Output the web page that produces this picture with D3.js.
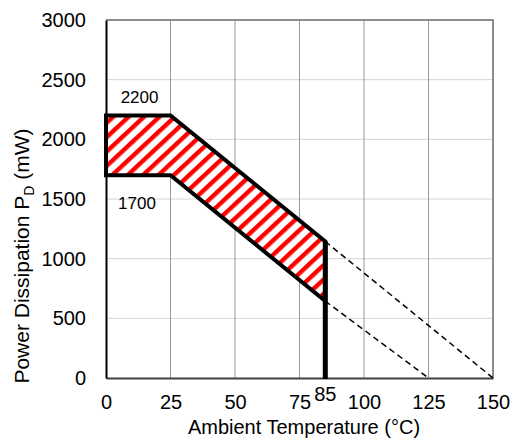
<!DOCTYPE html>
<html>
<head>
<meta charset="utf-8">
<script src="https://cdn.jsdelivr.net/npm/d3@7"></script>
<style>
  body { margin: 0; background: #fff; }
  text { font-family: Arial, "Liberation Sans", sans-serif; fill: #000; }
</style>
</head>
<body>
<script>
// chart values
var xTicks = [0, 25, 50, 75, 100, 125, 150];
var yTicks = [0, 500, 1000, 1500, 2000, 2500, 3000];

// safe operating area, upper and lower boundaries
var upperTemp = [0, 25, 85];
var upperPower = [2200, 2200, 1144];
var lowerTemp = [0, 25, 85];
var lowerPower = [1700, 1700, 644];

// derating extension lines (dashed)
var upperDashTemp = [85, 150];
var upperDashPower = [1144, 0];
var lowerDashTemp = [85, 125];
var lowerDashPower = [644, 0];

var labelTemp = 85;
var maxLabels = [2200, 1700];

var margin = {top: 20, right: 18, bottom: 65, left: 106},
    width = 511 - margin.left - margin.right,
    height = 443 - margin.top - margin.bottom;

var xScale = d3.scaleLinear().domain([0, 150]).range([0, width]);
var yScale = d3.scaleLinear().domain([0, 3000]).range([height, 0]);

var svg = d3.select('body')
    .append('svg')
    .attr('width', 511)
    .attr('height', 443)
    .append('g')
    .attr('transform', 'translate(' + margin.left + ',' + margin.top + ')');

// hatch pattern
var defs = svg.append('defs');
var pat = defs.append('pattern')
    .attr('id', 'hatch')
    .attr('patternUnits', 'userSpaceOnUse')
    .attr('width', 20)
    .attr('height', 10.5)
    .attr('patternTransform', 'rotate(-43)');
pat.append('rect').attr('width', 20).attr('height', 10.5).attr('fill', '#fff');
pat.append('rect').attr('width', 20).attr('height', 4.4).attr('fill', '#ff0000');

// horizontal gridlines
svg.append('g')
    .attr('class', 'grid')
    .selectAll('line')
    .data(yTicks.slice(1, -1))
    .enter().append('line')
    .attr('x1', 0).attr('x2', width)
    .attr('y1', function(d) { return yScale(d); })
    .attr('y2', function(d) { return yScale(d); })
    .attr('stroke', '#d4d4d4')
    .attr('stroke-width', 1);

// vertical gridlines
svg.append('g')
    .attr('class', 'grid')
    .selectAll('line')
    .data(xTicks.slice(1, -1))
    .enter().append('line')
    .attr('y1', 0).attr('y2', height)
    .attr('x1', function(d) { return xScale(d); })
    .attr('x2', function(d) { return xScale(d); })
    .attr('stroke', '#999')
    .attr('stroke-width', 1);

// top and right border
svg.append('line')
    .attr('x1', 0).attr('x2', width).attr('y1', 0).attr('y2', 0)
    .attr('stroke', '#8c8c8c').attr('stroke-width', 2);
svg.append('line')
    .attr('x1', width).attr('x2', width).attr('y1', -1).attr('y2', height)
    .attr('stroke', '#8c8c8c').attr('stroke-width', 2);

// axes
var xAxis = d3.axisBottom(xScale).tickValues(xTicks).tickSize(0).tickPadding(17);
var yAxis = d3.axisLeft(yScale).tickValues(yTicks).tickSize(0).tickPadding(20)
    .tickFormat(d3.format('d'));

var gx = svg.append('g')
    .attr('transform', 'translate(0,' + height + ')')
    .call(xAxis);
gx.select('.domain').attr('stroke', '#404040').attr('stroke-width', 2);
gx.selectAll('text').style('font-size', '20px').attr('dy', '0.71em');

var gy = svg.append('g').call(yAxis);
gy.select('.domain').attr('stroke', '#000').attr('stroke-width', 2);
gy.selectAll('text').style('font-size', '20px');

// hatched area
var areaPts = [];
upperTemp.forEach(function(t, i) { areaPts.push([t, upperPower[i]]); });
for (var i = lowerTemp.length - 1; i >= 0; i--) areaPts.push([lowerTemp[i], lowerPower[i]]);

var line = d3.line()
    .x(function(d) { return xScale(d[0]); })
    .y(function(d) { return yScale(d[1]); });

svg.append('path')
    .attr('d', line(areaPts) + 'Z')
    .attr('fill', 'url(#hatch)')
    .attr('stroke', '#000')
    .attr('stroke-width', 4)
    .attr('stroke-linejoin', 'miter');

// dashed extensions
function dashed(ts, ps) {
    var pts = ts.map(function(t, i) { return [t, ps[i]]; });
    svg.append('path')
        .attr('d', line(pts))
        .attr('fill', 'none')
        .attr('stroke', '#000')
        .attr('stroke-width', 1.5)
        .attr('stroke-dasharray', '6,4');
}
dashed(upperDashTemp, upperDashPower);
dashed(lowerDashTemp, lowerDashPower);

// vertical line at 85
svg.append('line')
    .attr('x1', xScale(labelTemp)).attr('x2', xScale(labelTemp))
    .attr('y1', yScale(upperPower[2])).attr('y2', yScale(0) + 1)
    .attr('stroke', '#000').attr('stroke-width', 5);

// labels
svg.append('text')
    .attr('x', xScale(labelTemp))
    .attr('y', height + 22.5)
    .attr('text-anchor', 'middle')
    .style('font-size', '20px')
    .text(labelTemp);

svg.append('text')
    .attr('x', xScale(13))
    .attr('y', yScale(maxLabels[0]) - 12)
    .attr('text-anchor', 'middle')
    .style('font-size', '17px')
    .text(maxLabels[0]);

svg.append('text')
    .attr('x', xScale(12))
    .attr('y', yScale(maxLabels[1]) + 34)
    .attr('text-anchor', 'middle')
    .style('font-size', '17px')
    .text(maxLabels[1]);

// axis titles
svg.append('text')
    .attr('x', 198)
    .attr('y', height + 56)
    .attr('text-anchor', 'middle')
    .style('font-size', '20px')
    .text('Ambient Temperature (°C)');

var yl = svg.append('text')
    .attr('transform', 'translate(' + (-77) + ',' + 236 + ') rotate(-90)')
    .attr('text-anchor', 'middle')
    .style('font-size', '21px');
yl.append('tspan').text('Power Dissipation P');
yl.append('tspan').attr('dy', 5).style('font-size', '14px').text('D');
yl.append('tspan').attr('dy', -5).text(' (mW)');
</script>
</body>
</html>
